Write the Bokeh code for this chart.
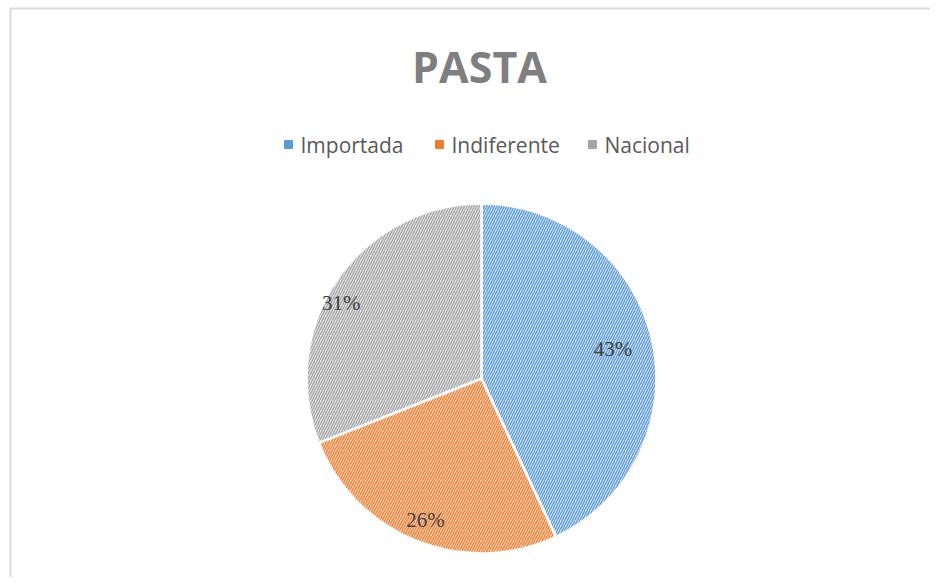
import math
from bokeh.plotting import figure
from bokeh.models import Range1d, ColumnDataSource
from bokeh.core.properties import value
from bokeh.embed import file_html
from bokeh.resources import INLINE

# ---- data ----
categories = ["Importada", "Indiferente", "Nacional"]
shares = [43, 26, 31]
labels = ["43%", "26%", "31%"]

# ---- styles ----
line_colors = ["#5B9BD5", "#ED7D31", "#A5A5A5"]
bg_colors = ["#d3e3f4", "#fbd9c2", "#e6e6e6"]
label_radius_frac = [0.77, 0.87, 0.91]
label_angle_shift = [0.0, 0.0, math.radians(6)]

W, H = 930, 577
p = figure(width=W, height=H, output_backend="svg", toolbar_location=None,
           x_range=Range1d(0, W), y_range=Range1d(0, H), min_border=0)
p.axis.visible = False
p.grid.visible = False
p.outline_line_color = None
p.background_fill_color = "white"
p.border_fill_color = "white"

def sy(y):  # image y -> data y
    return H - y

def sx(x):
    return x

# chart frame
p.quad(left=[sx(10)], right=[sx(W + 60)], top=[sy(8)], bottom=[sy(H + 60)],
       fill_color=None, line_color="#d9d9d9", line_width=2)

cx, cy, R = sx(481), sy(378), 175

total = sum(shares)
start = math.pi / 2
starts, ends, lx, ly = [], [], [], []
for i, s in enumerate(shares):
    sweep = 2 * math.pi * s / total
    end = start - sweep
    starts.append(end)
    ends.append(start)
    mid = (start + end) / 2 + label_angle_shift[i]
    lx.append(cx + R * label_radius_frac[i] * math.cos(mid))
    ly.append(cy + R * label_radius_frac[i] * math.sin(mid))
    start = end

src = ColumnDataSource(dict(start=starts, end=ends, fill=bg_colors, hatch=line_colors,
                            lx=lx, ly=ly, lab=labels))
p.wedge(x=cx, y=cy, radius=R, start_angle="start", end_angle="end", source=src,
        fill_color="fill", hatch_color="hatch", hatch_pattern="/", hatch_scale=5,
        hatch_weight=1.3, line_color="white", line_width=2.5)

p.text(x="lx", y="ly", text="lab", source=src, text_align="center",
       text_baseline="middle", text_font=value("Liberation Serif"),
       text_font_size="21px", text_color="#404040")

# title
p.text(x=[sx(479)], y=[sy(66)], text=["PASTA"], text_align="center",
       text_baseline="middle", text_font=value("Open Sans"), text_font_style="bold",
       text_font_size="43px", text_color="#7f7f7f")

# legend
leg_x = [sx(288), sx(439), sx(592)]
leg_y = sy(144)
p.scatter(x=leg_x, y=[leg_y] * 3, marker="square", size=8, color=line_colors)
p.text(x=[x + 12 for x in leg_x], y=[leg_y] * 3, text=categories, text_align="left",
       text_baseline="middle", text_font=value("Open Sans"),
       text_font_size="21px", text_color="#595959")

open("out.html", "w").write(file_html(p, INLINE))
